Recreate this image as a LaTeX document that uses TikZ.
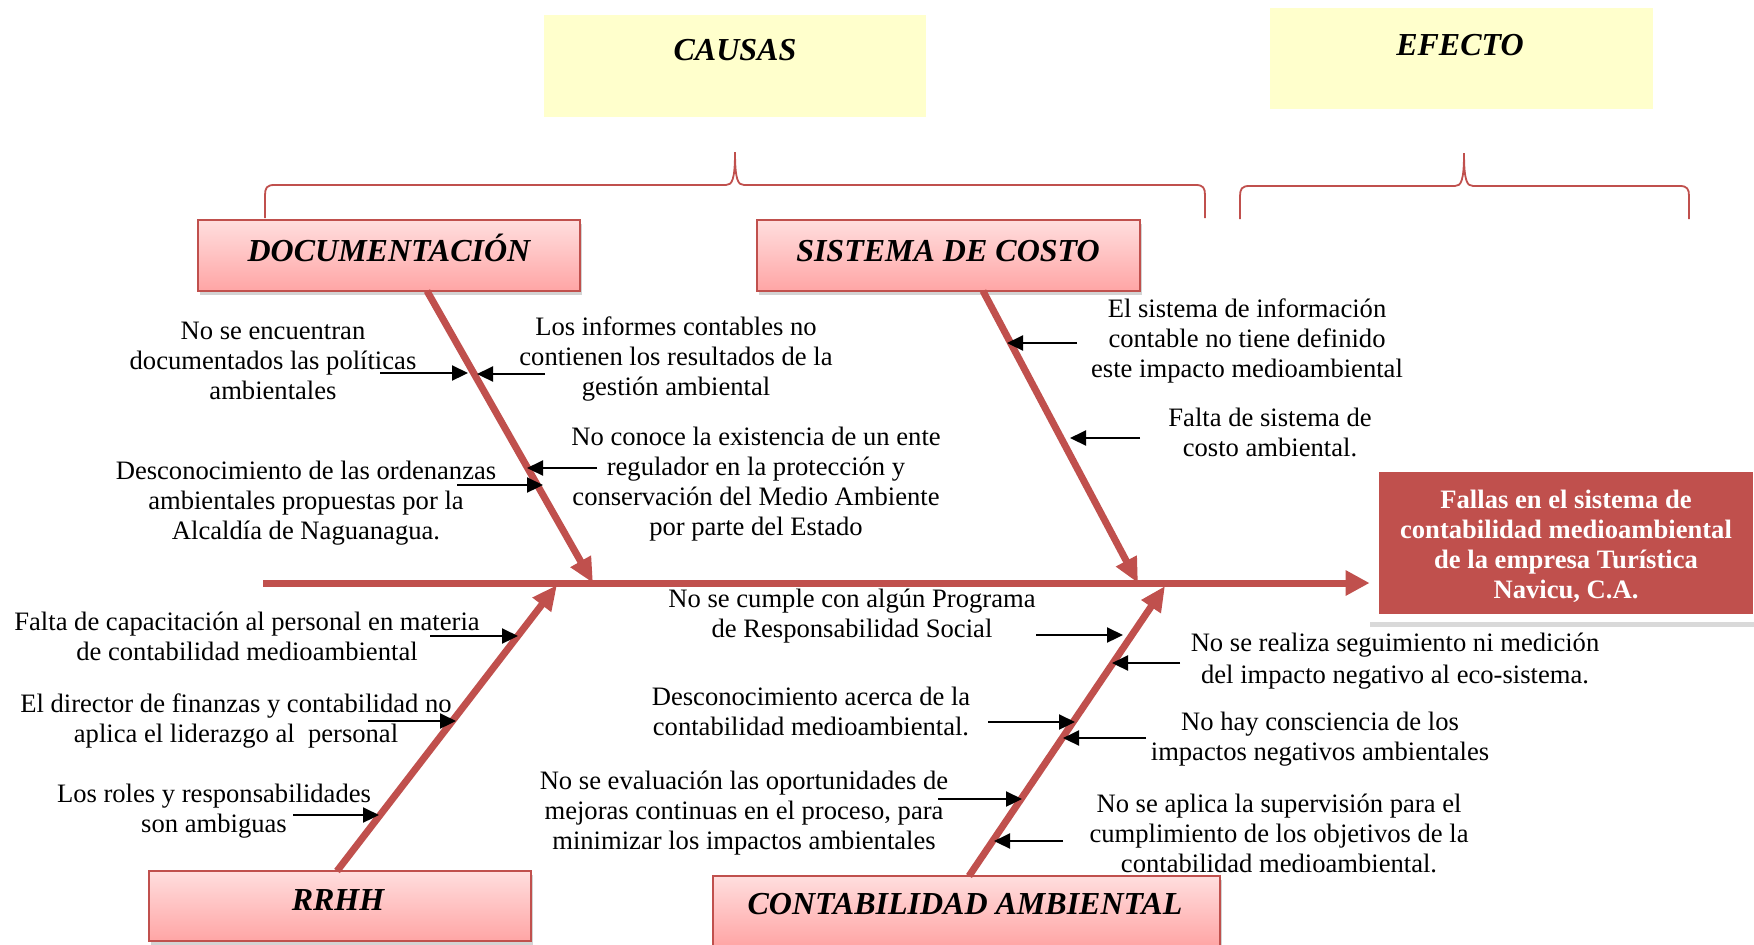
\documentclass[tikz,border=0pt]{standalone}
\usepackage{fontspec}
\setmainfont{Liberation Serif}
\usetikzlibrary{arrows.meta,shadows,calc}
\definecolor{fish}{HTML}{C0504D}
\definecolor{pale}{HTML}{FFFFCC}
\definecolor{pinkT}{HTML}{FFDEDE}
\definecolor{pinkB}{HTML}{FFA5A5}
\begin{document}
\begin{tikzpicture}[x=0.5pt,y=-0.5pt,
  every node/.style={inner sep=0pt},
  lbl/.style={align=center,font=\fontsize{13.3}{15}\selectfont},
  ttl/.style={font=\fontsize{16}{19}\selectfont\bfseries\itshape,text height=10.6pt,text depth=0pt},
  hdr/.style={draw=fish,line width=0.9pt,top color=pinkT,bottom color=pinkB,
    drop shadow={shadow xshift=1pt,shadow yshift=-2pt,opacity=0.35}},
  yel/.style={fill=pale},
  bone/.style={draw=fish,line width=3.5pt,-{Triangle[length=12.5pt,width=11pt]}},
  tick/.style={draw=black,line width=1.1pt,-{Triangle[length=8pt,width=7.5pt]}},
  brace/.style={draw=fish,line width=0.9pt},
]
\useasboundingbox (0,0) rectangle (1754,944);

% header boxes
\node[yel,minimum width=191pt,minimum height=51pt] (causasbox) at (735,66) {};
\node[ttl] (causas) at (735,50) {CAUSAS};
\node[yel,minimum width=191.5pt,minimum height=50.5pt] (efectobox) at (1461.5,58.5) {};
\node[ttl] (efecto) at (1460,45) {EFECTO};

% braces
\draw[brace] (265,218) -- (265,195) .. controls (265,188) and (267,185) .. (274,185) -- (726,185)
  .. controls (732,185) and (735,180) .. (735,152)
  .. controls (735,180) and (738,185) .. (744,185) -- (1196,185)
  .. controls (1203,185) and (1205,188) .. (1205,195) -- (1205,218);
\draw[brace] (1240,219) -- (1240,196) .. controls (1240,189) and (1242,186) .. (1249,186) -- (1455,186)
  .. controls (1461,186) and (1464,181) .. (1464,153)
  .. controls (1464,181) and (1467,186) .. (1473,186) -- (1680,186)
  .. controls (1687,186) and (1689,189) .. (1689,196) -- (1689,219);

% category boxes
\node[hdr,minimum width=191pt,minimum height=35.5pt] (doc) at (389,255.5) {};
\node[ttl] (docT) at (389,251) {DOCUMENTACIÓN};
\node[hdr,minimum width=191.5pt,minimum height=35.5pt] (sis) at (948.5,255.5) {};
\node[ttl] (sisT) at (948,251) {SISTEMA DE COSTO};
\node[hdr,minimum width=191pt,minimum height=35pt] (rrhh) at (340,906) {};
\node[ttl] (rrhhT) at (338,900) {RRHH};
\node[hdr,minimum width=253.5pt,minimum height=35pt] (cont) at (966.5,911) {};
\node[ttl] (contT) at (965,904) {CONTABILIDAD AMBIENTAL};

% effect box
\node[fill=white,minimum width=200pt,minimum height=79pt,
  drop shadow={shadow xshift=0pt,shadow yshift=-2.5pt,opacity=0.3}] (effframe) at (1570,543) {};
\node[fill=fish,minimum width=187pt,minimum height=71pt] (effect) at (1566,543) {};
\node[align=center,text=white,font=\fontsize{13.3}{15}\selectfont\bfseries] (efftxt) at (1566,546)
  {Fallas en el sistema de\\contabilidad medioambiental\\de la empresa Turística\\Navicu, C.A.};

% spine and bones
\coordinate (spL) at (263,583);
\draw[bone,-{Triangle[length=12pt,width=12pt]}] (spL) -- (spL -| effframe.west);
\coordinate (dTop) at (427,291); \coordinate (dEnd) at (593,583);
\coordinate (sTop) at (983,291); \coordinate (sEnd) at (1138,583);
\coordinate (rBot) at (337,871); \coordinate (rEnd) at (557,585);
\coordinate (cBot) at (969,876); \coordinate (cEnd) at (1165,586);
\draw[bone] (dTop) -- (dEnd);
\draw[bone] (sTop) -- (sEnd);
\draw[bone] (rBot) -- (rEnd);
\draw[bone] (cBot) -- (cEnd);

% labels
\node[lbl] (l1) at (273,361) {No se encuentran\\documentados las políticas\\ambientales};
\node[lbl] (l2) at (676,359) {Los informes contables no\\contienen los resultados de la\\gestión ambiental};
\node[lbl] (l3) at (756,484) {No conoce la existencia de un ente\\regulador en la protección y\\conservación del Medio Ambiente\\por parte del Estado};
\node[lbl] (l4) at (306,503) {Desconocimiento de las ordenanzas\\ambientales propuestas por la\\Alcaldía de Naguanagua.};
\node[lbl] (l5) at (1247,341) {El sistema de información\\contable no tiene definido\\este impacto medioambiental};
\node[lbl] (l6) at (1270,432) {Falta de sistema de\\costo ambiental.};
\node[lbl] (l7) at (247,636) {Falta de capacitación al personal en materia\\de contabilidad medioambiental};
\node[lbl] (l8) at (236,721) {El director de finanzas y contabilidad no\\aplica el liderazgo al\ \ personal};
\node[lbl] (l9) at (214,811) {Los roles y responsabilidades\\son ambiguas};
\node[lbl] (l10) at (852,616) {No se cumple con algún Programa\\de Responsabilidad Social};
\node[lbl,font=\fontsize{13.3}{16}\selectfont] (l11) at (1395,661) {No se realiza seguimiento ni medición\\del impacto negativo al eco-sistema.};
\node[lbl] (l12) at (811,711) {Desconocimiento acerca de la\\contabilidad medioambiental.};
\node[lbl] (l13) at (1320,739) {No hay consciencia de los\\impactos negativos ambientales};
\node[lbl] (l14) at (744,813) {No se evaluación las oportunidades de\\mejoras continuas en el proceso, para\\minimizar los impactos ambientales};
\node[lbl] (l15) at (1279,833) {No se aplica la supervisión para el\\cumplimiento de los objetivos de la\\contabilidad medioambiental.};

% small arrows
\coordinate (a1s) at (380,373);  \coordinate (a1e) at (468,373);
\coordinate (a2s) at (545,374);  \coordinate (a2e) at (477,374);
\coordinate (a3s) at (597,468);  \coordinate (a3e) at (527,468);
\coordinate (a4s) at (457,485);  \coordinate (a4e) at (543,485);
\coordinate (a5s) at (1077,343); \coordinate (a5e) at (1007,343);
\coordinate (a6s) at (1140,438); \coordinate (a6e) at (1070,438);
\coordinate (a7s) at (430,636);  \coordinate (a7e) at (518,636);
\coordinate (a8s) at (368,721);  \coordinate (a8e) at (456,721);
\coordinate (a9s) at (293,815);  \coordinate (a9e) at (379,815);
\coordinate (b1s) at (1036,635); \coordinate (b1e) at (1123,635);
\coordinate (b2s) at (1180,663); \coordinate (b2e) at (1112,663);
\coordinate (b3s) at (988,722);  \coordinate (b3e) at (1075,722);
\coordinate (b4s) at (1146,738); \coordinate (b4e) at (1063,738);
\coordinate (b5s) at (938,799);  \coordinate (b5e) at (1022,799);
\coordinate (b6s) at (1063,841); \coordinate (b6e) at (994,841);
\foreach \p in {a1,a2,a3,a4,a5,a6,a7,a8,a9,b1,b2,b3,b4,b5,b6}
  \draw[tick] (\p s) -- (\p e);
\end{tikzpicture}
\end{document}
